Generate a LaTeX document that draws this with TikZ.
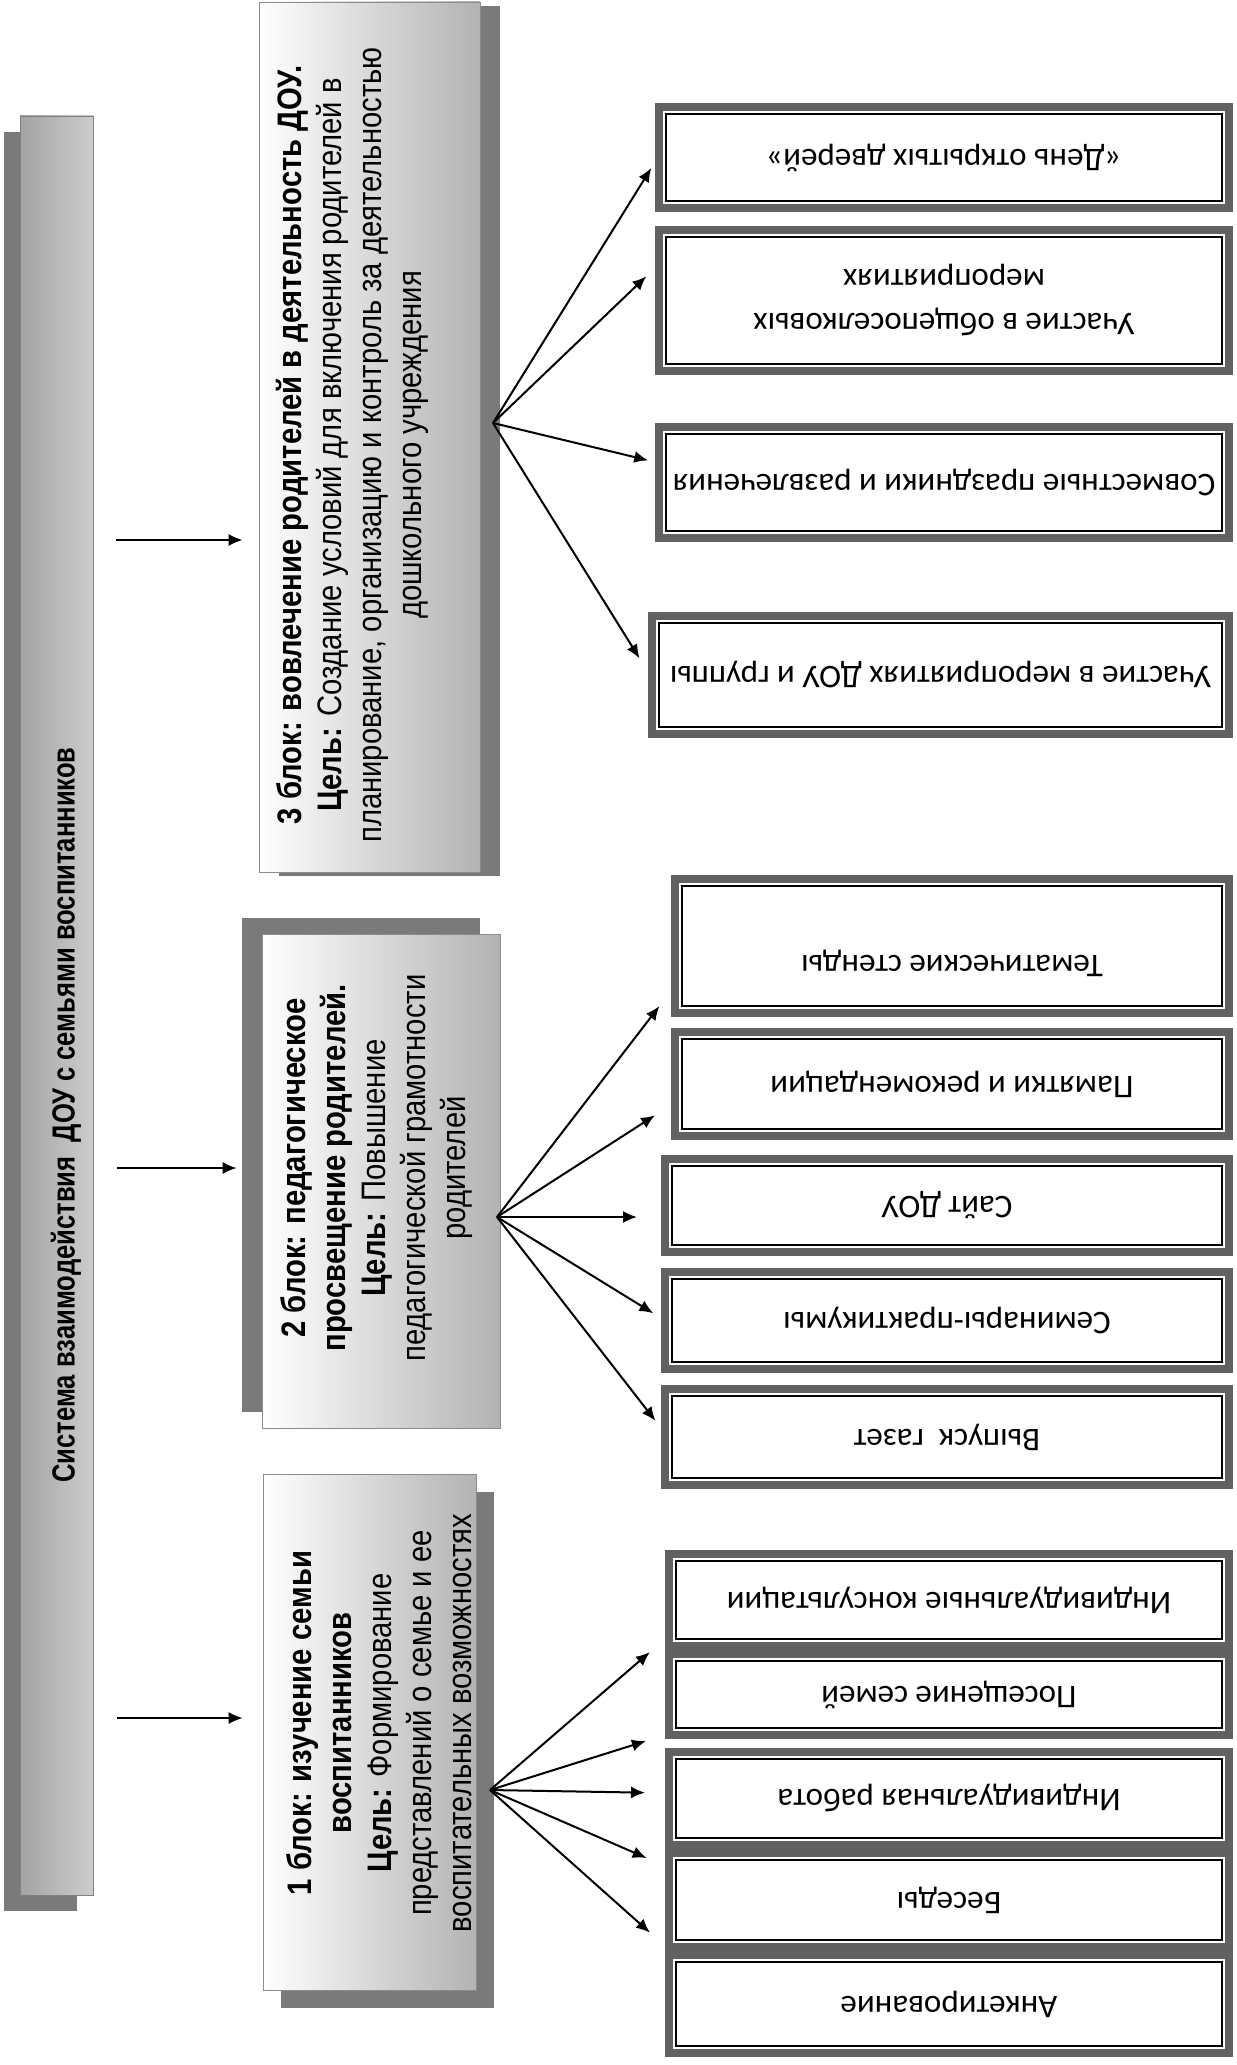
\documentclass[tikz,border=0pt]{standalone}
\usepackage{fontspec}
\usepackage{graphicx}
\setmainfont{Liberation Sans}
\newfontfamily\nar[FakeStretch=0.86]{Liberation Sans}
\newfontfamily\narb[FakeStretch=0.80]{Liberation Sans}
\newfontfamily\calfont{Carlito}
\usetikzlibrary{arrows.meta,calc,fit}
\tikzset{
 arr/.style={-{Latex[length=7pt,width=6pt]}, line width=1pt, black},
 shadowbox/.style={fill=black!52, draw=none},
 blockbox/.style={draw=black!45, line width=0.3pt, inner sep=0pt, shading=axis, left color=white, right color=black!30},
 barbox/.style={draw=black!50, line width=0.3pt, inner sep=0pt, shading=axis, left color=black!36, right color=black!20},
 bartxt/.style={font=\narb\bfseries\fontsize{16}{20}\selectfont, rotate=90},
 blocktxt/.style={font=\nar\fontsize{17}{20}\selectfont, rotate=90, align=center},
 rbox/.style={draw=black!62, line width=4pt, inner sep=0pt, fill=white},
 rinner/.style={draw=black, line width=0.6pt},
 rtxt/.style={font=\calfont\fontsize{16.5}{22}\selectfont, rotate=180, align=center},
}
\newcommand\rb[7]{%
 \node[rbox, fit={(#2,#3) (#4,#5)}] (#1) {};
 \draw[rinner] ($(#1.north west)+(11,11)$) rectangle ($(#1.south east)+(-11,-11)$);
 \node[rtxt] (#1t) at ($(#1.center)+(0,#6)$) {#7};
}
\begin{document}
\begin{tikzpicture}[x=0.5pt,y=-0.5pt]
\useasboundingbox (0,0) rectangle (1236,2065);
\fill[white] (0,0) rectangle (1236,2065);

% main bar
\fill[shadowbox] (4,132) rectangle (77,1911);
\node[barbox, fit={(20,116) (93,1895)}] (bar) {};
\node[bartxt] (bart) at (66,1115) {Система взаимодействия\ \ ДОУ с семьями воспитанников};

% block 3
\fill[shadowbox] (279,6) rectangle (500,876);
\node[blockbox, fit={(259,2) (480,872)}] (b3) {};
\node[blocktxt] (b3t) at (352,445) {\textbf{3 блок: вовлечение родителей в деятельность ДОУ.}\\\textbf{Цель:} Создание условий для включения родителей в\\планирование, организацию и контроль за деятельностью\\дошкольного учреждения};

% block 2
\fill[shadowbox] (242,918) rectangle (480,1412);
\node[blockbox, fit={(262,934) (500,1428)}] (b2) {};
\node[blocktxt] (b2t) at (377,1168) {\textbf{2 блок: педагогическое}\\\textbf{просвещение родителей.}\\\textbf{Цель:} Повышение\\педагогической грамотности\\родителей};

% block 1
\fill[shadowbox] (281,1492) rectangle (494,2008);
\node[blockbox, fit={(263,1474) (476,1990)}] (b1) {};
\node[blocktxt] (b1t) at (379,1723) {\textbf{1 блок: изучение семьи}\\\textbf{воспитанников}\\\textbf{Цель:} Формирование\\представлений о семье и ее\\воспитательных возможностях};

% right boxes
\rb{r1}{659}{107}{1229}{208}{0}{«День открытых дверей»}
\rb{r2}{659}{230}{1229}{371}{0}{Участие в общепоселковых\\мероприятиях}
\rb{r3}{659}{427}{1229}{538}{0}{Совместные праздники и развлечения}
\rb{r4}{652}{616}{1229}{734}{0}{Участие в мероприятиях ДОУ и группы}
\rb{r5}{675}{879}{1229}{1013}{17}{Тематические стенды}
\rb{r6}{675}{1032}{1229}{1136}{0}{Памятки и рекомендации}
\rb{r7}{665}{1159}{1229}{1252}{0}{Сайт ДОУ}
\rb{r8}{665}{1272}{1229}{1369}{0}{Семинары-практикумы}
\rb{r9}{665}{1389}{1229}{1485}{0}{Выпуск\ \ газет}
\rb{r10}{669}{1554}{1229}{1646}{0}{Индивидуальные консультации}
\rb{r11}{669}{1654}{1229}{1735}{0}{Посещение семей}
\rb{r12}{669}{1752}{1229}{1845}{0}{Индивидуальная работа}
\rb{r13}{669}{1853}{1229}{1947}{0}{Беседы}
\rb{r14}{669}{1955}{1229}{2053}{0}{Анкетирование}

% arrows from main bar
\coordinate (y3) at (0,540);
\coordinate (y2) at (0,1168);
\coordinate (y1) at (0,1718);
\draw[arr] ([xshift=11.5pt]bar.east |- y3) -- ([xshift=-8pt]b3.west |- y3);
\draw[arr] ([xshift=12pt]bar.east |- y2) -- ([xshift=-12.5pt]b2.west |- y2);
\draw[arr] ([xshift=12pt]bar.east |- y1) -- ([xshift=-10pt]b1.west |- y1);

% fan 3
\coordinate (f3) at (493,423);
\coordinate (t31) at (0,162);
\coordinate (t32) at (0,268);
\coordinate (t33) at (0,462);
\coordinate (t34) at (0,672);
\draw[arr, shorten >=3.5pt] (f3) -- (r1.west |- t31);
\draw[arr, shorten >=6pt] (f3) -- (r2.west |- t32);
\draw[arr, shorten >=3.5pt] (f3) -- (r3.west |- t33);
\draw[arr, shorten >=8pt] (f3) -- (r4.west |- t34);

% fan 2
\coordinate (f2) at (497,1217);
\coordinate (t21) at (0,991);
\coordinate (t22) at (0,1105);
\coordinate (t23) at (0,1217);
\coordinate (t24) at (0,1318);
\coordinate (t25) at (0,1428);
\draw[arr, shorten >=9.5pt] (f2) -- (r5.west |- t21);
\draw[arr, shorten >=9.5pt] (f2) -- (r6.west |- t22);
\draw[arr, shorten >=12pt] (f2) -- (r7.west |- t23);
\draw[arr, shorten >=4.5pt] (f2) -- (r8.west |- t24);
\draw[arr, shorten >=4.5pt] (f2) -- (r9.west |- t25);

% fan 1
\coordinate (f1) at (490,1790);
\coordinate (t11) at (0,1639);
\coordinate (t12) at (0,1735);
\coordinate (t13) at (0,1793);
\coordinate (t14) at (0,1866);
\coordinate (t15) at (0,1946);
\draw[arr, shorten >=10pt] (f1) -- (r10.west |- t11);
\draw[arr, shorten >=10pt] (f1) -- (r11.west |- t12);
\draw[arr, shorten >=10pt] (f1) -- (r12.west |- t13);
\draw[arr, shorten >=10pt] (f1) -- (r13.west |- t14);
\draw[arr, shorten >=10pt] (f1) -- (r14.west |- t15);
\end{tikzpicture}
\end{document}
